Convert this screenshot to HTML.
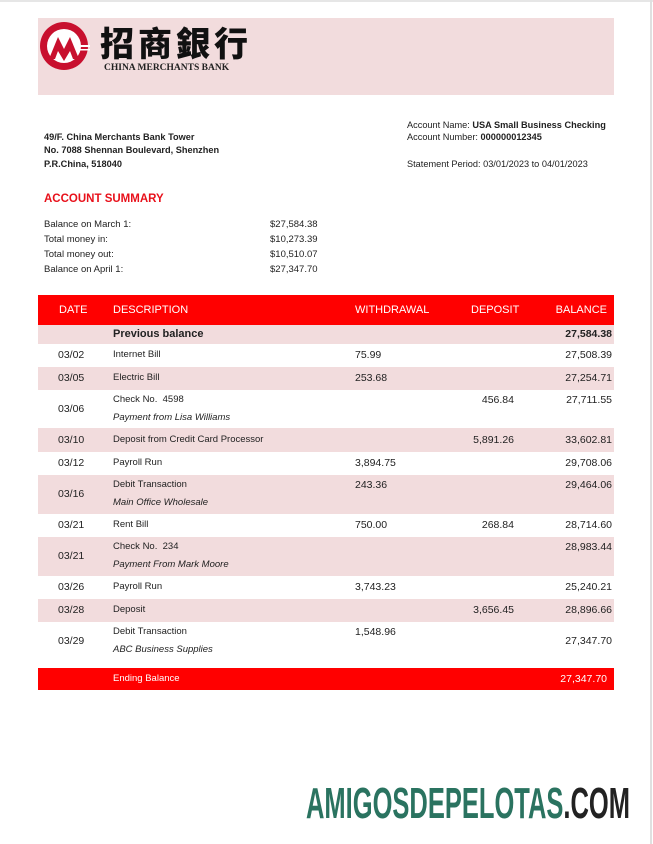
<!DOCTYPE html>
<html><head><meta charset="utf-8"><style>
*{margin:0;padding:0;box-sizing:border-box}
body{width:653px;height:844px;background:#fff;position:relative;overflow:hidden;font-family:"Liberation Sans",sans-serif;color:#222;font-size:9.5px}
.a{position:absolute;line-height:12px;white-space:nowrap}
.b{font-weight:bold}
.r{text-align:right;font-size:10.5px}
.bar{position:absolute;left:38px;width:576px}
.pk{background:#f2dcdd}
.i{font-style:italic}
</style></head><body>
<div style="position:absolute;left:0;top:0;width:653px;height:2px;background:#e6e6e6"></div>
<div style="position:absolute;left:650px;top:0;width:2px;height:844px;background:#e0e0e0"></div>

<div class="bar pk" style="top:18px;height:77px"></div>
<svg style="position:absolute;left:39px;top:21px" width="52" height="52" viewBox="0 0 52 52">
<circle cx="25" cy="25" r="24" fill="#c8102e"/>
<circle cx="25" cy="25" r="17" fill="#fff"/>
<path d="M10 38 L19 16 L25 28 L31 16 L40 38 L34 38 L31 30 L25 40 L19 30 L16 38Z" fill="#c8102e"/>
<rect x="41" y="24" width="10" height="2" fill="#fff"/><rect x="41" y="28" width="10" height="1.5" fill="#fff"/>
</svg>
<div class="a" style="left:100px;top:22px;font-size:34px;line-height:40px;letter-spacing:4px;font-weight:900;font-family:'Noto Sans CJK SC','Noto Serif CJK SC',sans-serif;color:#111">招商銀行</div>
<div class="a b" style="left:104px;top:62px;font-size:9.5px;font-family:'Liberation Serif',serif;color:#222">CHINA MERCHANTS BANK</div>

<div class="a b" style="left:44px;top:131px;font-size:9.2px">49/F. China Merchants Bank Tower</div>
<div class="a b" style="left:44px;top:144px;font-size:9.2px">No. 7088 Shennan Boulevard, Shenzhen</div>
<div class="a b" style="left:44px;top:158px;font-size:9.2px">P.R.China, 518040</div>

<div class="a" style="left:407px;top:119px;font-size:9.2px">Account Name: <b>USA Small Business Checking</b></div>
<div class="a" style="left:407px;top:131px;font-size:9.2px">Account Number: <b>000000012345</b></div>
<div class="a" style="left:407px;top:158px;font-size:9.2px">Statement Period: 03/01/2023 to 04/01/2023</div>

<div class="a b" style="left:44px;top:193px;font-size:11.5px;color:#e8101a">ACCOUNT SUMMARY</div>
<div class="a" style="left:44px;top:219px">Balance on March 1:</div><div class="a" style="left:270px;top:219px">$27,584.38</div>
<div class="a" style="left:44px;top:234px">Total money in:</div><div class="a" style="left:270px;top:234px">$10,273.39</div>
<div class="a" style="left:44px;top:249px">Total money out:</div><div class="a" style="left:270px;top:249px">$10,510.07</div>
<div class="a" style="left:44px;top:264px">Balance on April 1:</div><div class="a" style="left:270px;top:264px">$27,347.70</div>

<div class="bar" style="top:295px;height:30px;background:#ff0000"></div>
<div class="a" style="left:59px;top:304px;color:#fff;font-size:11px">DATE</div>
<div class="a" style="left:113px;top:304px;color:#fff;font-size:11px">DESCRIPTION</div>
<div class="a" style="left:355px;top:304px;color:#fff;font-size:11px">WITHDRAWAL</div>
<div class="a" style="left:471px;top:304px;color:#fff;font-size:11px">DEPOSIT</div>
<div class="a r" style="left:500px;width:107px;top:304px;color:#fff;font-size:11px">BALANCE</div>

<div class="bar pk" style="top:325px;height:19px"></div>
<div class="bar pk" style="top:367px;height:23px"></div>
<div class="bar pk" style="top:428px;height:24px"></div>
<div class="bar pk" style="top:475px;height:39px"></div>
<div class="bar pk" style="top:537px;height:39px"></div>
<div class="bar pk" style="top:599px;height:23px"></div>

<div class="a b" style="left:113px;top:328px;font-size:11px">Previous balance</div>
<div class="a b r" style="left:500px;width:112px;top:328px">27,584.38</div>

<div class="a" style="left:58px;top:349px;font-size:10.5px">03/02</div><div class="a" style="left:113px;top:349px">Internet Bill</div><div class="a" style="left:355px;top:349px;font-size:10.5px">75.99</div><div class="a r" style="left:500px;width:112px;top:349px">27,508.39</div>

<div class="a" style="left:58px;top:372px;font-size:10.5px">03/05</div><div class="a" style="left:113px;top:372px">Electric Bill</div><div class="a" style="left:355px;top:372px;font-size:10.5px">253.68</div><div class="a r" style="left:500px;width:112px;top:372px">27,254.71</div>

<div class="a" style="left:58px;top:403px;font-size:10.5px">03/06</div><div class="a" style="left:113px;top:394px">Check No.&nbsp; 4598</div><div class="a i" style="left:113px;top:412px">Payment from Lisa Williams</div><div class="a r" style="left:450px;width:64px;top:394px;font-size:10.5px">456.84</div><div class="a r" style="left:500px;width:112px;top:394px">27,711.55</div>

<div class="a" style="left:58px;top:434px;font-size:10.5px">03/10</div><div class="a" style="left:113px;top:434px">Deposit from Credit Card Processor</div><div class="a r" style="left:450px;width:64px;top:434px;font-size:10.5px">5,891.26</div><div class="a r" style="left:500px;width:112px;top:434px">33,602.81</div>

<div class="a" style="left:58px;top:457px;font-size:10.5px">03/12</div><div class="a" style="left:113px;top:457px">Payroll Run</div><div class="a" style="left:355px;top:457px;font-size:10.5px">3,894.75</div><div class="a r" style="left:500px;width:112px;top:457px">29,708.06</div>

<div class="a" style="left:58px;top:488px;font-size:10.5px">03/16</div><div class="a" style="left:113px;top:479px">Debit Transaction</div><div class="a i" style="left:113px;top:497px">Main Office Wholesale</div><div class="a" style="left:355px;top:479px;font-size:10.5px">243.36</div><div class="a r" style="left:500px;width:112px;top:479px">29,464.06</div>

<div class="a" style="left:58px;top:519px;font-size:10.5px">03/21</div><div class="a" style="left:113px;top:519px">Rent Bill</div><div class="a" style="left:355px;top:519px;font-size:10.5px">750.00</div><div class="a r" style="left:450px;width:64px;top:519px;font-size:10.5px">268.84</div><div class="a r" style="left:500px;width:112px;top:519px">28,714.60</div>

<div class="a" style="left:58px;top:550px;font-size:10.5px">03/21</div><div class="a" style="left:113px;top:541px">Check No.&nbsp; 234</div><div class="a i" style="left:113px;top:559px">Payment From Mark Moore</div><div class="a r" style="left:500px;width:112px;top:541px">28,983.44</div>

<div class="a" style="left:58px;top:581px;font-size:10.5px">03/26</div><div class="a" style="left:113px;top:581px">Payroll Run</div><div class="a" style="left:355px;top:581px;font-size:10.5px">3,743.23</div><div class="a r" style="left:500px;width:112px;top:581px">25,240.21</div>

<div class="a" style="left:58px;top:604px;font-size:10.5px">03/28</div><div class="a" style="left:113px;top:604px">Deposit</div><div class="a r" style="left:450px;width:64px;top:604px;font-size:10.5px">3,656.45</div><div class="a r" style="left:500px;width:112px;top:604px">28,896.66</div>

<div class="a" style="left:58px;top:635px;font-size:10.5px">03/29</div><div class="a" style="left:113px;top:626px">Debit Transaction</div><div class="a i" style="left:113px;top:644px">ABC Business Supplies</div><div class="a" style="left:355px;top:626px;font-size:10.5px">1,548.96</div><div class="a r" style="left:500px;width:112px;top:635px">27,347.70</div>

<div class="bar" style="top:668px;height:22px;background:#ff0000"></div>
<div class="a" style="left:113px;top:673px;color:#fff">Ending Balance</div>
<div class="a r" style="left:500px;width:107px;top:673px;color:#fff">27,347.70</div>

<svg style="position:absolute;left:0;top:0" width="653" height="844">
<text x="306" y="818" textLength="324" lengthAdjust="spacingAndGlyphs" font-family="Liberation Sans Narrow, Liberation Sans, sans-serif" font-weight="bold" font-size="44" fill="#2a7360">AMIGOSDEPELOTAS<tspan fill="#222">.COM</tspan></text>
</svg>
</body></html>
